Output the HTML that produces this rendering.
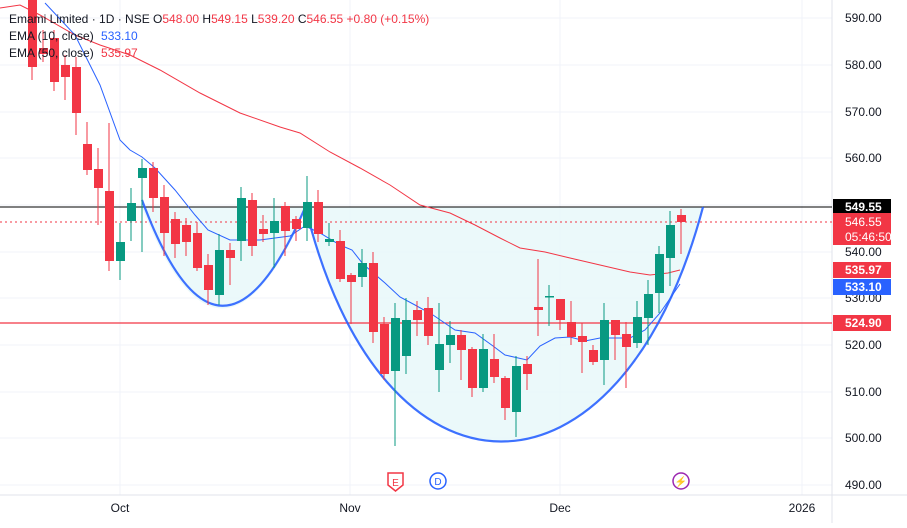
<!DOCTYPE html>
<html><head><style>
body{margin:0;background:#fff;font-family:"Liberation Sans",sans-serif;}
svg text{font-family:"Liberation Sans",sans-serif;}
</style></head><body>
<svg width="907" height="523" xmlns="http://www.w3.org/2000/svg">
<rect width="907" height="523" fill="#fff"/>
<g stroke="#f0f3fa" stroke-width="1">
<line x1="0" y1="18" x2="832" y2="18"/><line x1="0" y1="65" x2="832" y2="65"/><line x1="0" y1="112" x2="832" y2="112"/><line x1="0" y1="158" x2="832" y2="158"/><line x1="0" y1="205" x2="832" y2="205"/><line x1="0" y1="252" x2="832" y2="252"/><line x1="0" y1="298" x2="832" y2="298"/><line x1="0" y1="345" x2="832" y2="345"/><line x1="0" y1="392" x2="832" y2="392"/><line x1="0" y1="438" x2="832" y2="438"/><line x1="0" y1="485" x2="832" y2="485"/>
<line x1="120" y1="0" x2="120" y2="495"/><line x1="350" y1="0" x2="350" y2="495"/><line x1="560" y1="0" x2="560" y2="495"/><line x1="802" y1="0" x2="802" y2="495"/>
</g>
<line x1="832" y1="0" x2="832" y2="523" stroke="#e0e3eb"/>
<line x1="0" y1="495" x2="907" y2="495" stroke="#e0e3eb"/>
<!-- cup fills -->
<path d="M142,207 Q220,410 307,207 Z" fill="#e6f7f9" opacity="0.8"/>
<path d="M305,207 C380,520 620,520 703,207 Z" fill="#e6f7f9" opacity="0.8"/>
<line x1="0" y1="207" x2="832" y2="207" stroke="#000" stroke-width="1"/>
<line x1="0" y1="323" x2="832" y2="323" stroke="#f23645" stroke-width="1.3"/>
<line x1="0" y1="222" x2="832" y2="222" stroke="#f23645" stroke-dasharray="2,3"/>
<!-- EMA50 -->
<polyline fill="none" stroke="#f23645" stroke-width="1" points="0,8 20,5 40,15 75,35 100,45 130,55 160,70 200,93 240,113 280,127 300,133 330,152 360,168 390,185 420,205 450,213 475,225 500,238 520,248 545,252 570,258 600,265 630,272 650,275 668,273 680,270"/>
<!-- EMA10 -->
<polyline fill="none" stroke="#2962ff" stroke-width="1" points="45,3 75,35 100,85 120,140 130,150 142,157 155,168 175,190 195,215 208,230 230,240 260,240 290,236 305,226 320,233 340,245 352,250 363,264 385,283 400,297 415,305 433,315 455,330 475,333 493,346 505,355 527,360 540,346 555,338 570,337 585,341 600,338 615,338 630,338 645,330 660,313 680,284"/>
<!-- cup curves -->
<path d="M142,200 Q220,410 307,203" fill="none" stroke="#2962ff" stroke-width="2.2" opacity="0.9"/>
<path d="M305,205 C380,520 620,520 703,207" fill="none" stroke="#2962ff" stroke-width="2.2" opacity="0.9"/>
<g id="c"></g>
<!-- candles -->
<g stroke-width="1">
<script>/*static*/</script>
</g>
<g>
<!-- x, body top, body bottom, wick top, wick bottom, color -->
</g>
<g id="candles">
<line x1="32" y1="0" x2="32" y2="80" stroke="#f23645"/><rect x="28" y="0" width="9" height="67" fill="#f23645"/>
<line x1="43" y1="30" x2="43" y2="62" stroke="#f23645"/><rect x="39" y="48" width="9" height="6" fill="#f23645"/>
<line x1="54" y1="30" x2="54" y2="91" stroke="#f23645"/><rect x="50" y="38" width="9" height="44" fill="#f23645"/>
<line x1="65" y1="55" x2="65" y2="100" stroke="#f23645"/><rect x="61" y="65" width="9" height="12" fill="#f23645"/>
<line x1="76" y1="57" x2="76" y2="135" stroke="#f23645"/><rect x="72" y="67" width="9" height="46" fill="#f23645"/>
<line x1="87" y1="122" x2="87" y2="175" stroke="#f23645"/><rect x="83" y="144" width="9" height="26" fill="#f23645"/>
<line x1="98" y1="148" x2="98" y2="225" stroke="#f23645"/><rect x="94" y="169" width="9" height="19" fill="#f23645"/>
<line x1="109" y1="123" x2="109" y2="271" stroke="#f23645"/><rect x="105" y="191" width="9" height="70" fill="#f23645"/>
<line x1="120" y1="223" x2="120" y2="280" stroke="#089981"/><rect x="116" y="242" width="9" height="19" fill="#089981"/>
<line x1="131" y1="188" x2="131" y2="241" stroke="#089981"/><rect x="127" y="203" width="9" height="18" fill="#089981"/>
<line x1="142" y1="159" x2="142" y2="252" stroke="#089981"/><rect x="138" y="168" width="9" height="10" fill="#089981"/>
<line x1="153" y1="162" x2="153" y2="212" stroke="#f23645"/><rect x="149" y="168" width="9" height="30" fill="#f23645"/>
<line x1="164" y1="185" x2="164" y2="256" stroke="#f23645"/><rect x="160" y="197" width="9" height="36" fill="#f23645"/>
<line x1="175" y1="212" x2="175" y2="258" stroke="#f23645"/><rect x="171" y="219" width="9" height="25" fill="#f23645"/>
<line x1="186" y1="218" x2="186" y2="256" stroke="#f23645"/><rect x="182" y="225" width="9" height="17" fill="#f23645"/>
<line x1="197" y1="222" x2="197" y2="271" stroke="#f23645"/><rect x="193" y="233" width="9" height="35" fill="#f23645"/>
<line x1="208" y1="254" x2="208" y2="305" stroke="#f23645"/><rect x="204" y="265" width="9" height="25" fill="#f23645"/>
<line x1="219" y1="234" x2="219" y2="305" stroke="#089981"/><rect x="215" y="250" width="9" height="45" fill="#089981"/>
<line x1="230" y1="243" x2="230" y2="285" stroke="#f23645"/><rect x="226" y="250" width="9" height="8" fill="#f23645"/>
<line x1="241" y1="187" x2="241" y2="261" stroke="#089981"/><rect x="237" y="198" width="9" height="43" fill="#089981"/>
<line x1="252" y1="193" x2="252" y2="256" stroke="#f23645"/><rect x="248" y="200" width="9" height="46" fill="#f23645"/>
<line x1="263" y1="215" x2="263" y2="242" stroke="#f23645"/><rect x="259" y="229" width="9" height="5" fill="#f23645"/>
<line x1="274" y1="198" x2="274" y2="268" stroke="#089981"/><rect x="270" y="221" width="9" height="12" fill="#089981"/>
<line x1="285" y1="202" x2="285" y2="256" stroke="#f23645"/><rect x="281" y="206" width="9" height="25" fill="#f23645"/>
<line x1="296" y1="216" x2="296" y2="241" stroke="#f23645"/><rect x="292" y="219" width="9" height="10" fill="#f23645"/>
<line x1="307" y1="176" x2="307" y2="241" stroke="#089981"/><rect x="303" y="202" width="9" height="26" fill="#089981"/>
<line x1="318" y1="190" x2="318" y2="242" stroke="#f23645"/><rect x="314" y="202" width="9" height="32" fill="#f23645"/>
<line x1="329" y1="223" x2="329" y2="246" stroke="#089981"/><rect x="325" y="239" width="9" height="3" fill="#089981"/>
<line x1="340" y1="230" x2="340" y2="282" stroke="#f23645"/><rect x="336" y="241" width="9" height="38" fill="#f23645"/>
<line x1="351" y1="273" x2="351" y2="324" stroke="#f23645"/><rect x="347" y="275" width="9" height="7" fill="#f23645"/>
<line x1="362" y1="249" x2="362" y2="287" stroke="#089981"/><rect x="358" y="263" width="9" height="14" fill="#089981"/>
<line x1="373" y1="252" x2="373" y2="343" stroke="#f23645"/><rect x="369" y="263" width="9" height="69" fill="#f23645"/>
<line x1="384" y1="317" x2="384" y2="380" stroke="#f23645"/><rect x="380" y="324" width="9" height="50" fill="#f23645"/>
<line x1="395" y1="303" x2="395" y2="446" stroke="#089981"/><rect x="391" y="318" width="9" height="53" fill="#089981"/>
<line x1="406" y1="298" x2="406" y2="374" stroke="#089981"/><rect x="402" y="320" width="9" height="36" fill="#089981"/>
<line x1="417" y1="301" x2="417" y2="336" stroke="#f23645"/><rect x="413" y="310" width="9" height="10" fill="#f23645"/>
<line x1="428" y1="297" x2="428" y2="345" stroke="#f23645"/><rect x="424" y="308" width="9" height="28" fill="#f23645"/>
<line x1="439" y1="303" x2="439" y2="392" stroke="#089981"/><rect x="435" y="344" width="9" height="26" fill="#089981"/>
<line x1="450" y1="321" x2="450" y2="363" stroke="#089981"/><rect x="446" y="335" width="9" height="10" fill="#089981"/>
<line x1="461" y1="330" x2="461" y2="380" stroke="#f23645"/><rect x="457" y="335" width="9" height="15" fill="#f23645"/>
<line x1="472" y1="347" x2="472" y2="397" stroke="#f23645"/><rect x="468" y="349" width="9" height="39" fill="#f23645"/>
<line x1="483" y1="334" x2="483" y2="392" stroke="#089981"/><rect x="479" y="349" width="9" height="39" fill="#089981"/>
<line x1="494" y1="334" x2="494" y2="383" stroke="#f23645"/><rect x="490" y="359" width="9" height="18" fill="#f23645"/>
<line x1="505" y1="376" x2="505" y2="420" stroke="#f23645"/><rect x="501" y="378" width="9" height="30" fill="#f23645"/>
<line x1="516" y1="356" x2="516" y2="437" stroke="#089981"/><rect x="512" y="366" width="9" height="46" fill="#089981"/>
<line x1="527" y1="356" x2="527" y2="390" stroke="#f23645"/><rect x="523" y="364" width="9" height="10" fill="#f23645"/>
<line x1="538" y1="259" x2="538" y2="336" stroke="#f23645"/><rect x="534" y="307" width="9" height="3" fill="#f23645"/>
<line x1="549" y1="285" x2="549" y2="326" stroke="#089981"/><rect x="545" y="296" width="9" height="1.5" fill="#089981"/>
<line x1="560" y1="299" x2="560" y2="330" stroke="#f23645"/><rect x="556" y="299" width="9" height="21" fill="#f23645"/>
<line x1="571" y1="301" x2="571" y2="345" stroke="#f23645"/><rect x="567" y="322" width="9" height="15" fill="#f23645"/>
<line x1="582" y1="323" x2="582" y2="373" stroke="#f23645"/><rect x="578" y="336" width="9" height="6" fill="#f23645"/>
<line x1="593" y1="345" x2="593" y2="365" stroke="#f23645"/><rect x="589" y="350" width="9" height="12" fill="#f23645"/>
<line x1="604" y1="303" x2="604" y2="385" stroke="#089981"/><rect x="600" y="320" width="9" height="40" fill="#089981"/>
<line x1="615" y1="320" x2="615" y2="360" stroke="#f23645"/><rect x="611" y="320" width="9" height="15" fill="#f23645"/>
<line x1="626" y1="322" x2="626" y2="388" stroke="#f23645"/><rect x="622" y="334" width="9" height="13" fill="#f23645"/>
<line x1="637" y1="301" x2="637" y2="348" stroke="#089981"/><rect x="633" y="317" width="9" height="26" fill="#089981"/>
<line x1="648" y1="280" x2="648" y2="345" stroke="#089981"/><rect x="644" y="294" width="9" height="24" fill="#089981"/>
<line x1="659" y1="246" x2="659" y2="313" stroke="#089981"/><rect x="655" y="254" width="9" height="39" fill="#089981"/>
<line x1="670" y1="211" x2="670" y2="286" stroke="#089981"/><rect x="666" y="225" width="9" height="33" fill="#089981"/>
<line x1="681" y1="209" x2="681" y2="254" stroke="#f23645"/><rect x="677" y="215" width="9" height="7" fill="#f23645"/>
</g>
<!-- legend -->
<g font-size="12">
<text x="9" y="23" fill="#131722">Emami Limited · 1D · NSE <tspan>O</tspan><tspan fill="#f23645">548.00</tspan> H<tspan fill="#f23645">549.15</tspan> L<tspan fill="#f23645">539.20</tspan> C<tspan fill="#f23645">546.55</tspan> <tspan fill="#f23645">+0.80 (+0.15%)</tspan></text>
<text x="9" y="40" fill="#131722">EMA (10, close) <tspan fill="#2962ff" dx="4">533.10</tspan></text>
<text x="9" y="57" fill="#131722">EMA (50, close) <tspan fill="#f23645" dx="4">535.97</tspan></text>
</g>
<!-- right axis -->
<g font-size="12" fill="#131722">
<text x="845" y="22">590.00</text><text x="845" y="69">580.00</text><text x="845" y="116">570.00</text><text x="845" y="162">560.00</text><text x="845" y="256">540.00</text><text x="845" y="302">530.00</text><text x="845" y="349">520.00</text><text x="845" y="396">510.00</text><text x="845" y="442">500.00</text><text x="845" y="489">490.00</text>
</g>
<rect x="833" y="199" width="58" height="16" fill="#000"/><text x="845" y="211" font-size="12" font-weight="bold" fill="#fff">549.55</text>
<rect x="833" y="213" width="58" height="32" fill="#f23645"/><text x="845" y="226" font-size="12" fill="#fff">546.55</text><text x="845" y="241" font-size="12" fill="#fff">05:46:50</text>
<rect x="833" y="262" width="58" height="16" fill="#f23645"/><text x="845" y="274" font-size="12" font-weight="bold" fill="#fff">535.97</text>
<rect x="833" y="279" width="58" height="16" fill="#2962ff"/><text x="845" y="291" font-size="12" font-weight="bold" fill="#fff">533.10</text>
<rect x="833" y="315" width="58" height="16" fill="#f23645"/><text x="845" y="327" font-size="12" font-weight="bold" fill="#fff">524.90</text>
<!-- bottom axis -->
<g font-size="12" fill="#131722" text-anchor="middle">
<text x="120" y="512">Oct</text><text x="350" y="512">Nov</text><text x="560" y="512">Dec</text><text x="802" y="512">2026</text>
</g>
<!-- event icons -->
<path d="M388,473 h15 v12 l-7.5,6 l-7.5,-6 z" fill="#fff" stroke="#f23645" stroke-width="1.5"/>
<text x="395.5" y="486" font-size="10" fill="#f23645" text-anchor="middle">E</text>
<circle cx="438" cy="481" r="8" fill="#fff" stroke="#2962ff" stroke-width="1.5"/>
<text x="438" y="485" font-size="10" fill="#2962ff" text-anchor="middle">D</text>
<circle cx="681" cy="481" r="8" fill="#fff" stroke="#9c27b0" stroke-width="1.5"/>
<text x="681" y="485" font-size="10" fill="#9c27b0" text-anchor="middle">⚡</text>
</svg>
</body></html>
